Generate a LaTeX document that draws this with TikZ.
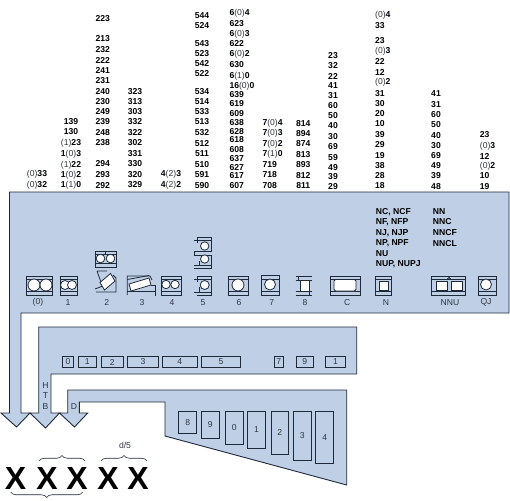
\documentclass[tikz,border=0pt]{standalone}
\usepackage{fontspec}
\setmainfont{Liberation Sans}
\usetikzlibrary{decorations.pathreplacing}
\definecolor{panel}{HTML}{BFD0E6}
\definecolor{ink}{HTML}{1E2A3A}
\definecolor{lab}{HTML}{2F3640}
\newcommand{\pp}[1]{{\mdseries\color{lab}(#1)}}
\newcommand{\colc}[2]{\foreach \yy/\tt in {#2}{\node[code] at (#1,\yy) {\tt};}}
\newcommand{\coll}[2]{\foreach \yy/\tt in {#2}{\node[code,anchor=west] at (#1,\yy) {\tt};}}
\newcommand{\cell}[5]{\draw[cellbox] (#1,#3) rectangle (#2,#4); \node[lbl] at ({(#1+#2)/2},{(#3+#4)/2}) {#5};}
\newcommand{\bframe}[4]{\draw[ic] (#1,#4+1) -- (#1,#3) -- (#2,#3) -- (#2,#4+1);
  \draw[ic] (#1,#3+3.5) -- (#2,#3+3.5); \draw[ic] (#1,#4-3.5) -- (#2,#4-3.5); \draw[ic] (#1,#4) -- (#2,#4);}
\tikzset{
  code/.style={font=\fontsize{8.6}{9}\selectfont\bfseries,text=black,inner sep=0pt},
  lbl/.style={font=\fontsize{8.6}{9}\selectfont,text=lab,inner sep=0pt},
  panelshape/.style={draw=ink,fill=panel,line width=0.9pt,line join=miter},
  cellbox/.style={draw=ink,line width=0.8pt},
  ic/.style={draw=ink,line width=0.8pt},
  ball/.style={draw=ink,fill=white,line width=0.8pt},
  big/.style={font=\fontsize{32}{32}\selectfont\bfseries,text=black,inner sep=0pt},
  brc/.style={draw=ink,line width=0.6pt,decorate,decoration={brace,amplitude=5.5pt}},
}
\begin{document}
\begin{tikzpicture}[x=1pt,y=-1pt]
\useasboundingbox (0,0) rectangle (510,500);
% panels
\draw[panelshape] (9.5,192) -- (509,192) -- (509,313) -- (21,313) -- (21,413) -- (30,413) -- (16.5,427) -- (1,413) -- (9.5,413) -- cycle;
\draw[panelshape] (38.7,327) -- (356.7,327) -- (356.7,374) -- (51,374) -- (51,413) -- (59.5,413) -- (45.5,428) -- (30,413) -- (38.7,413) -- cycle;
\draw[panelshape] (67.7,390) -- (346.7,390) -- (346.7,485) -- (165,436) -- (165,402) -- (79.3,402) -- (79.3,413) -- (87.7,413) -- (74.5,427) -- (59.5,413) -- (67.7,413) -- cycle;
% row 2
\cell{62.3}{73.7}{356.7}{367.3}{0}
\cell{78.3}{96.3}{356.7}{367.3}{1}
\cell{101.3}{123.3}{356.7}{367.3}{2}
\cell{127.3}{158.7}{356.7}{367.3}{3}
\cell{162.3}{197.3}{356.7}{367.3}{4}
\cell{201.3}{240.7}{356.7}{367.3}{5}
\cell{274.3}{283}{356.7}{367.3}{7}
\cell{296}{313.7}{356.7}{367.3}{9}
\cell{325.7}{345.3}{356.7}{367.3}{1}
% row 3
\cell{178.7}{196.7}{411.3}{433.3}{8}
\cell{201.3}{219}{411.3}{438.3}{9}
\cell{225.3}{243.3}{411.3}{444}{0}
\cell{247.7}{265.3}{411.3}{448.7}{1}
\cell{271}{288.7}{411.3}{454}{2}
\cell{293.3}{311}{411.3}{460.3}{3}
\cell{315.7}{333.7}{411.3}{463.7}{4}
\node[lbl] at (45.5,386) {H};
\node[lbl] at (45.5,395.5) {T};
\node[lbl] at (45.5,407) {B};
\node[lbl] at (74,407) {D};
% big X
\foreach \xx in {15.5,47,77,108,138}{\node[big] at (\xx,478) {X};}
\node[lbl] at (125,445) {d/5};
\draw[brc] (39,461) -- (85,461);
\draw[brc] (101,461) -- (147,461);
\draw[brc] (82.7,492) -- (10.7,492);
% code columns
\colc{37}{174/\pp{0}33,185/\pp{0}32}
\colc{71}{121.7/139,132/130,143/\pp{1}23,154.7/1\pp{0}3,165/\pp{1}22,175/1\pp{0}2,185/1\pp{1}0}
\colc{102.7}{19/223,39/213,50/232,60/222,70.7/241,80.7/231,91.3/240,101.3/230,112/249,121.7/239,132.7/248,142.7/238,164/294,174.7/293,185.3/292}
\colc{135}{91.3/323,101.3/313,112/303,122/332,132.7/322,143/302,154/331,164/330,175/320,185/329}
\colc{171}{174/4\pp{2}3,185/4\pp{2}2}
\colc{202}{15.7/544,26/524,43.3/543,53.3/523,64/542,74/522,91.3/534,102/514,112/533,122/513,132.7/532,144/512,154/511,164.3/510,174.7/591,185.3/590}
\coll{229.3}{13.3/6\pp{0}4,24/623,34/6\pp{0}3,44/622,54.7/6\pp{0}2,65/630,76/6\pp{1}0,86/16\pp{0}0,95/639,103.7/619,114/609,123/638,131.3/628,140/618,150/608,158.3/637,167.7/627,176/617,185.3/607}
\coll{262.3}{123.3/7\pp{0}4,133.3/7\pp{0}3,144/7\pp{0}2,154.3/7\pp{1}0,164.7/719,174.7/718,185.3/708}
\colc{303.3}{123.3/814,134/894,144/874,154.7/813,165/893,175.7/812,185.3/811}
\colc{333}{56/23,66/32,76.7/22,86/41,96/31,105.7/60,115.7/50,126/40,137/30,147/69,157.7/59,167.7/49,176.7/39,186.7/29}
\coll{375}{15.3/\pp{0}4,26/33,40.7/23,51.7/\pp{0}3,61.7/22,72/12,82.7/\pp{0}2,93.7/31,103.3/30,114/20,124/10,134.7/39,145/29,155.3/19,165.3/38,176/28,186/18}
\colc{436}{94/41,104.7/31,114.7/60,125/50,135.3/40,145.3/30,155.3/69,165.7/49,175.3/39,186.7/48}
\coll{479.7}{134.7/23,146/\pp{0}3,156/12,166/\pp{0}2,176/10,186.7/19}
\coll{375.7}{212.3/{NC, NCF},222.3/{NF, NFP},233.3/{NJ, NJP},243.7/{NP, NPF},254/NU,264.7/{NUP, NUPJ}}
\coll{432.7}{212/NN,221.7/NNC,232.7/NNCF,243.7/NNCL}
% icon labels
\foreach \xx/\tt in {38/(0),68/1,106.7/2,142/3,172/4,203/5,239/6,271.7/7,305/8,347.3/C,386/N,450/NNU,486/QJ}{\node[lbl] at (\xx,302.7) {\tt};}
% bearing icons
\bframe{26}{52.7}{276}{295}
\draw[ball] (34,285) circle (6); \draw[ball] (46,285) circle (6);
\bframe{60}{77}{276}{295}
\draw[ball] (65,285) circle (4.5); \draw[ball] (72,285) circle (4.5);
\bframe{95.5}{116}{251}{267}
\draw[ic] (105.7,251) -- (105.7,254);
\draw[ball] (100.5,258.5) circle (4.3); \draw[ball] (110.5,258.5) circle (4.3);
% icon 2 lower
\draw[ic] (97,271) -- (107,271) (97,271) -- (102,285);
\draw[ic] (95,289) -- (104,285.5) (96,292) -- (116,292) -- (116,278) -- (113,275);
\draw[ball] (110.5,273.5) -- (115,281) -- (104.5,290) -- (100,282.5) -- cycle;
% icon 3
\draw[ic] (127.3,295) -- (127.3,276) -- (150,276) -- (152,280);
\draw[ic] (127.3,291) -- (155,291) -- (155,285) -- (151,285) (155,291) -- (155,296);
\draw[ic] (127.3,279.5) -- (149,275.5);
\draw[ball] (129,284) -- (149,278) -- (151,285) -- (131,291) -- cycle;
% icon 4
\bframe{161}{181}{276}{295}
\draw[ball] (166,284.5) circle (4.2); \draw[ball] (175,284.5) circle (4.2);
% icon 5 lower
\draw[ic] (194,279) -- (211,279) (197,276) -- (211,276) -- (211,295) -- (197,295) (194,292) -- (211,292);
\draw[ic] (197,276) -- (197,282) (199,292) -- (199,287);
\draw[ball] (204.7,285) circle (4.5);
% icon 5 upper
\draw[ic] (194,240) -- (211,240) (197,237) -- (211,237) -- (211,252) (194,251) -- (211,251) (194,251) -- (194,255) -- (211,255) (211,255) -- (211,268) -- (194,268) (194,265) -- (211,265) (197,237) -- (197,243) (199,265) -- (199,261);
\draw[ball] (204.7,246) circle (4.2); \draw[ball] (204.7,259) circle (4.2);
% icon 6
\bframe{228.3}{248}{276}{295}
\draw[ball] (238,285) circle (6);
% icon 7
\bframe{261.7}{279}{275.5}{295}
\draw[ball] (270,284.5) circle (5.5);
% icon 8
\draw[ic] (295.7,276) -- (311.7,276) (298,276) -- (298,280) (295.7,295) -- (311.7,295) (309.5,295) -- (309.5,291) (295.7,280) -- (311.7,280) (295.7,291) -- (311.7,291);
\draw[ball] (300,280) rectangle (309,291);
% icon C
\bframe{330}{360}{276}{295}
\draw[ball,rounded corners=1.5pt] (334,279.5) rectangle (356,291);
% icon N
\bframe{375}{391.7}{276}{295}
\draw[ball] (379,281) rectangle (388,290);
% icon NNU
\bframe{431.7}{465}{276}{295}
\draw[ball] (436,281) rectangle (447,290); \draw[ball] (451,281) rectangle (462,290);
\draw[ic] (447,279.5) -- (449,277.5) -- (451,279.5);
% icon QJ
\bframe{478}{496}{276}{295}
\draw[ball] (486,284.5) circle (5.5);
\end{tikzpicture}
\end{document}
